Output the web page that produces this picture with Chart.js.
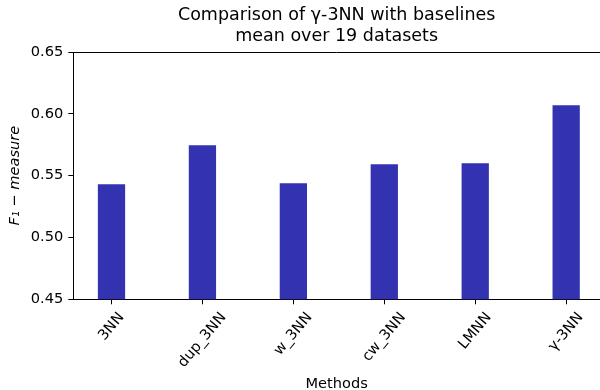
<!DOCTYPE html>
<html><head><meta charset="utf-8">
<script src="https://cdn.jsdelivr.net/npm/chart.js@4"></script>
<style>html,body{margin:0;padding:0;background:#fff}#wrap{width:600px;height:390px}</style>
</head><body><div id="wrap"><canvas id="c" width="600" height="390"></canvas></div>
<script>
const categories = ['3NN', 'dup_3NN', 'w_3NN', 'cw_3NN', 'LMNN', 'γ-3NN'];
const f1Values = [0.5431, 0.5746, 0.5439, 0.5593, 0.5601, 0.6069];
const yTickValues = [0.45, 0.50, 0.55, 0.60, 0.65];
const titleLines = ['Comparison of γ-3NN with baselines', 'mean over 19 datasets'];
const xTitle = 'Methods';
const yTitle = 'F₁ − measure';

const FONT = "'DejaVu Sans', sans-serif";
const ROT = 50 * Math.PI / 180;
const TICK_SIZE = 14.6;
const TITLE_SIZE = 17.5;

const mplPlugin = {
  id: 'mplTicks',
  afterDraw(chart) {
    const {ctx, chartArea, scales: {x}} = chart;
    ctx.save();
    ctx.strokeStyle = '#000';
    ctx.lineWidth = 1;
    const ty = Math.round(chartArea.top) + 0.5;
    ctx.beginPath();
    ctx.moveTo(chartArea.left, ty);
    ctx.lineTo(chartArea.right, ty);
    ctx.stroke();
    ctx.font = TICK_SIZE + 'px ' + FONT;
    ctx.fillStyle = '#000';
    const H = TICK_SIZE * 1.164;
    const top = x.top + 5 + 5;
    categories.forEach((lab, i) => {
      const px = x.getPixelForValue(i);
      const W = ctx.measureText(lab).width;
      const bh = W * Math.sin(ROT) + H * Math.cos(ROT);
      ctx.save();
      ctx.translate(px, top + bh / 2);
      ctx.rotate(-ROT);
      ctx.textAlign = 'center';
      ctx.textBaseline = 'middle';
      ctx.fillText(lab, 0, 0);
      ctx.restore();
    });
    ctx.restore();
  }
};

new Chart(document.getElementById('c'), {
  type: 'bar',
  data: {
    datasets: [{
      data: categories.map((c, i) => ({x: i, y: f1Values[i]})),
      backgroundColor: 'rgb(51,51,178)',
      borderWidth: 0,
      barPercentage: 0.3,
      categoryPercentage: 1
    }]
  },
  options: {
    responsive: false,
    animation: false,
    devicePixelRatio: 1,
    layout: {padding: 0},
    plugins: {
      legend: {display: false},
      tooltip: {enabled: false},
      title: {
        display: true, text: titleLines, fullSize: false, color: '#000',
        font: {family: FONT, size: TITLE_SIZE, weight: 'normal', lineHeight: 1.2},
        padding: {top: 5, bottom: 5}
      }
    },
    scales: {
      x: {
        type: 'linear', min: -0.42, max: 5.372, offset: false,
        afterFit(s) { s.height = 90.7; },
        grid: {drawOnChartArea: false, color: '#000', tickLength: 5, drawTicks: true, offset: false},
        border: {color: '#000', width: 1},
        ticks: {display: false, stepSize: 1, includeBounds: false},
        title: {display: true, text: xTitle, color: '#000', font: {family: FONT, size: TICK_SIZE, lineHeight: 0.86}, padding: {top: 0, bottom: 0}}
      },
      y: {
        min: 0.45, max: 0.65,
        afterFit(s) { s.width = 73.3; },
        afterBuildTicks(s) { s.ticks = yTickValues.map(v => ({value: v})); },
        ticks: {color: '#000', font: {family: FONT, size: TICK_SIZE}, padding: 5, callback: v => Number(v).toFixed(2)},
        grid: {drawOnChartArea: false, color: '#000', tickLength: 5},
        border: {color: '#000', width: 1},
        title: {display: true, text: yTitle, color: '#000', font: {family: FONT, size: TICK_SIZE, style: 'italic', lineHeight: 1.2}, padding: {top: 6, bottom: 0}}
      }
    }
  },
  plugins: [mplPlugin]
});
</script>
</body></html>
